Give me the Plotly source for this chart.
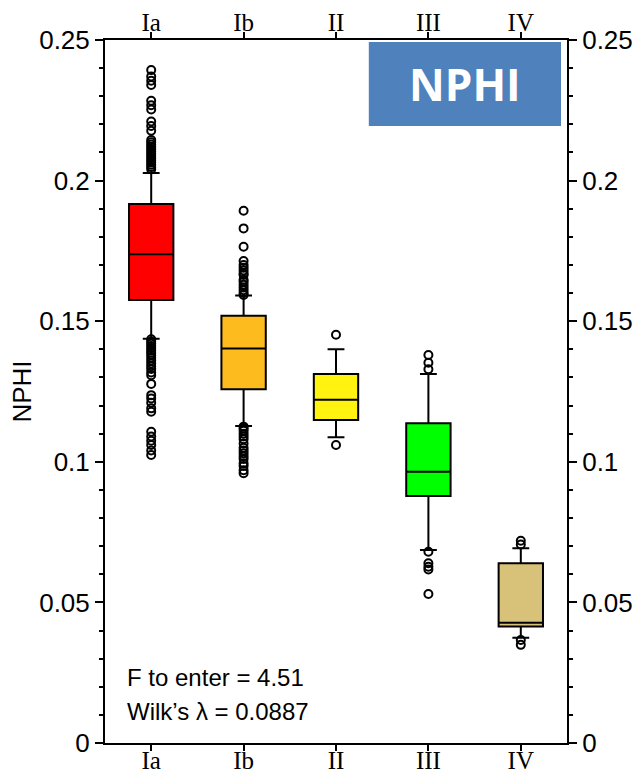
import plotly.graph_objects as go

categories = ["Ia", "Ib", "II", "III", "IV"]
box_colors = ["#FF0000", "#FDBB1E", "#FFF30F", "#00FF00", "#D8C27A"]

lower_fence = [0.1438, 0.1127, 0.1087, 0.0686, 0.0374]
q1_vals = [0.1575, 0.1258, 0.1149, 0.0878, 0.0414]
median_vals = [0.1738, 0.1403, 0.1221, 0.0965, 0.0428]
q3_vals = [0.1917, 0.1519, 0.1312, 0.1137, 0.0639]
upper_fence = [0.2027, 0.1591, 0.1400, 0.1312, 0.0693]

outliers_Ia = [0.2393, 0.2370, 0.2355, 0.2340, 0.2284, 0.2268, 0.2253, 0.2210,
               0.2194, 0.2177, 0.2144, 0.2136, 0.2128, 0.2120, 0.2112, 0.2104,
               0.2096, 0.2088, 0.2080, 0.2072, 0.2064, 0.2056, 0.2048, 0.2040,
               0.1436, 0.1428, 0.1420, 0.1412, 0.1404, 0.1396, 0.1388, 0.1380,
               0.1370, 0.1360, 0.1350, 0.1340, 0.1330, 0.1318, 0.1308, 0.1277,
               0.1237, 0.1225, 0.1210, 0.1190, 0.1178, 0.1107, 0.1090, 0.1075,
               0.1060, 0.1040, 0.1024]
outliers_Ib = [0.1893, 0.1830, 0.1765, 0.1714, 0.1700, 0.1690, 0.1680, 0.1670,
               0.1664, 0.1647, 0.1640, 0.1630, 0.1620, 0.1610, 0.1600, 0.1593,
               0.1125, 0.1118, 0.1110, 0.1100, 0.1090, 0.1080, 0.1065, 0.1050,
               0.1040, 0.1030, 0.1020, 0.1010, 0.0995, 0.0985, 0.0970, 0.0959]
outliers_II = [0.1452, 0.1060]
outliers_III = [0.1380, 0.1352, 0.1329, 0.0680, 0.0639, 0.0627, 0.0617, 0.0530]
outliers_IV = [0.0719, 0.0706, 0.0366, 0.0349]
outliers = [outliers_Ia, outliers_Ib, outliers_II, outliers_III, outliers_IV]

y_ticks = [0, 0.05, 0.1, 0.15, 0.2, 0.25]

fig = go.Figure()

for i, cat in enumerate(categories):
    fig.add_trace(go.Box(
        x=[cat], q1=[q1_vals[i]], median=[median_vals[i]], q3=[q3_vals[i]],
        lowerfence=[lower_fence[i]], upperfence=[upper_fence[i]],
        boxpoints=False, fillcolor=box_colors[i],
        line=dict(color="black", width=2), whiskerwidth=0.38, width=0.48,
        showlegend=False, hoverinfo="skip",
    ))
    fig.add_trace(go.Scatter(
        x=[cat] * len(outliers[i]), y=outliers[i], mode="markers",
        marker=dict(symbol="circle-open", size=8, color="black",
                    line=dict(width=2, color="black")),
        showlegend=False, hoverinfo="skip",
    ))

# invisible trace to drive the top/right mirrored axes
fig.add_trace(go.Scatter(x=categories, y=[0.1] * len(categories), xaxis="x2", yaxis="y2",
                         mode="markers", marker=dict(opacity=0), showlegend=False,
                         hoverinfo="skip"))

xfont = dict(family="Liberation Serif", size=25, color="black")
yfont = dict(family="Liberation Sans", size=26, color="black")
minor = dict(dtick=0.01, ticklen=4, tickwidth=1.5, ticks="outside", tickcolor="black")

fig.update_layout(
    width=638, height=775,
    margin=dict(l=105, r=71, t=40, b=32),
    paper_bgcolor="white", plot_bgcolor="white",
    boxmode="overlay",
    xaxis=dict(type="category", categoryorder="array", categoryarray=categories,
               range=[-0.5, 4.5], showline=True, linewidth=2, linecolor="black",
               ticks="outside", ticklen=6, tickwidth=2, tickcolor="black",
               tickfont=xfont, showgrid=False, zeroline=False, automargin=False,
               ticklabelstandoff=-12),
    xaxis2=dict(type="category", categoryorder="array", categoryarray=categories,
                range=[-0.5, 4.5], overlaying="x", side="top",
                showline=True, linewidth=2, linecolor="black",
                ticks="outside", ticklen=6, tickwidth=2, tickcolor="black",
                tickfont=xfont, showgrid=False, zeroline=False, automargin=False,
                ticklabelstandoff=-9),
    yaxis=dict(range=[0, 0.25], tickvals=y_ticks, showline=True, linewidth=2,
               linecolor="black", ticks="outside", ticklen=8, tickwidth=2,
               tickcolor="black", tickfont=yfont, showgrid=False, zeroline=False,
               minor=minor, automargin=False,
               title=dict(text="NPHI", font=dict(family="Liberation Sans", size=26,
                                                 color="black"), standoff=0)),
    yaxis2=dict(range=[0, 0.25], tickvals=y_ticks, overlaying="y", side="right",
                showline=True, linewidth=2, linecolor="black", ticks="outside",
                ticklen=8, tickwidth=2, tickcolor="black", tickfont=yfont,
                showgrid=False, zeroline=False, minor=minor, automargin=False),
)

fig.add_shape(type="rect", xref="paper", yref="paper",
              x0=0.571, x1=0.987, y0=0.8777, y1=0.997,
              fillcolor="#4F81BD", line=dict(width=0), layer="above")
fig.add_annotation(xref="paper", yref="paper", x=0.779, y=0.937, text="<b>NPHI</b>",
                   showarrow=False, xanchor="center", yanchor="middle",
                   font=dict(family="Open Sans", size=44, color="white"))

fig.add_annotation(xref="paper", yref="paper", x=0.043, y=0.0925,
                   text="F to enter = 4.51", showarrow=False,
                   xanchor="left", yanchor="middle",
                   font=dict(family="Liberation Sans", size=24, color="black"))
fig.add_annotation(xref="paper", yref="paper", x=0.043, y=0.0455,
                   text="Wilk\u2019s \u03bb = 0.0887", showarrow=False,
                   xanchor="left", yanchor="middle",
                   font=dict(family="Liberation Sans", size=24, color="black"))

fig.write_html("out.html")
